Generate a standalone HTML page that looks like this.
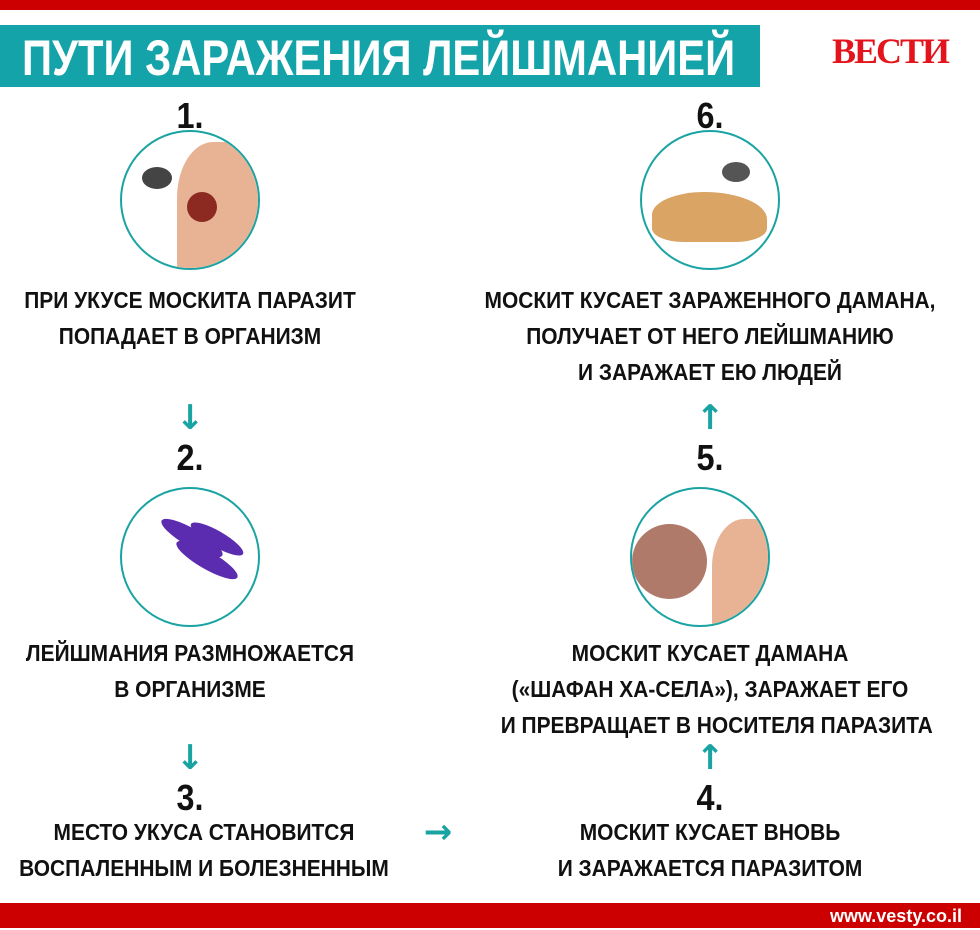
<!DOCTYPE html>
<html><head><meta charset="utf-8"><style>
*{margin:0;padding:0;box-sizing:border-box}
body{width:980px;height:930px;background:#fff;position:relative;overflow:hidden;font-family:"Liberation Sans",sans-serif;font-weight:bold;color:#111}
.a{position:absolute}
.t{position:absolute;text-align:center;font-size:23px;line-height:36px;white-space:nowrap;transform:scaleX(0.91);transform-origin:center top}
.n{position:absolute;font-size:36px;text-align:center;width:80px;transform:scaleX(0.9)}
.c{position:absolute;width:140px;height:140px;border-radius:50%;border:2px solid #1aa3a3;background:#fff;overflow:hidden}
.ar{position:absolute;color:#1aa3a3;font-size:34px;font-weight:bold;font-family:"DejaVu Sans",sans-serif;width:40px;text-align:center}
</style></head><body>
<div class="a" style="left:0;top:0;width:980px;height:10px;background:#cc0000"></div>
<div class="a" style="left:0;top:25px;width:760px;height:62px;background:#14a3a8"></div>
<div class="a" style="left:22px;top:30px;color:#fff;font-size:50px;line-height:56px;white-space:nowrap;transform:scaleX(0.835);transform-origin:left top">ПУТИ ЗАРАЖЕНИЯ ЛЕЙШМАНИЕЙ</div>
<div class="a" style="left:832px;top:30px;color:#e3141b;font-family:'Liberation Serif',serif;font-size:36px;font-weight:bold;letter-spacing:-2px">ВЕСТИ</div>

<div class="n" style="left:150px;top:95px">1.</div>
<div class="n" style="left:670px;top:95px">6.</div>
<div class="c" style="left:120px;top:130px"><div class="a" style="left:55px;top:10px;width:90px;height:140px;background:#e8b394;border-radius:40% 0 0 0"></div><div class="a" style="left:65px;top:60px;width:30px;height:30px;border-radius:50%;background:#8c2a22"></div><div class="a" style="left:20px;top:35px;width:30px;height:22px;border-radius:50%;background:#444"></div></div>
<div class="c" style="left:640px;top:130px"><div class="a" style="left:10px;top:60px;width:115px;height:50px;border-radius:50% 60% 30% 30%;background:#d9a464"></div><div class="a" style="left:80px;top:30px;width:28px;height:20px;border-radius:50%;background:#555"></div></div>
<div class="t" style="left:0;width:380px;top:282px">ПРИ УКУСЕ МОСКИТА ПАРАЗИТ<br>ПОПАДАЕТ В ОРГАНИЗМ</div>
<div class="t" style="left:460px;width:500px;top:282px">МОСКИТ КУСАЕТ ЗАРАЖЕННОГО ДАМАНА,<br>ПОЛУЧАЕТ ОТ НЕГО ЛЕЙШМАНИЮ<br>И ЗАРАЖАЕТ ЕЮ ЛЮДЕЙ</div>

<div class="ar" style="left:170px;top:398px">↓</div>
<div class="ar" style="left:690px;top:398px">↑</div>
<div class="n" style="left:150px;top:437px">2.</div>
<div class="n" style="left:670px;top:437px">5.</div>
<div class="c" style="left:120px;top:487px"><div class="a" style="left:35px;top:40px;width:70px;height:18px;border-radius:50%;background:#5b2bb0;transform:rotate(30deg)"></div><div class="a" style="left:50px;top:62px;width:70px;height:18px;border-radius:50%;background:#5b2bb0;transform:rotate(30deg)"></div><div class="a" style="left:65px;top:42px;width:60px;height:16px;border-radius:50%;background:#5b2bb0;transform:rotate(30deg)"></div></div>
<div class="c" style="left:630px;top:487px"><div class="a" style="left:80px;top:30px;width:80px;height:120px;background:#e8b394;border-radius:40% 0 0 0"></div><div class="a" style="left:0;top:35px;width:75px;height:75px;border-radius:50%;background:#b07a6a"></div></div>
<div class="t" style="left:0;width:380px;top:635px">ЛЕЙШМАНИЯ РАЗМНОЖАЕТСЯ<br>В ОРГАНИЗМЕ</div>
<div class="t" style="left:480px;width:460px;top:635px">МОСКИТ КУСАЕТ ДАМАНА<br>(«ШАФАН ХА-СЕЛА»), ЗАРАЖАЕТ ЕГО<br>И ПРЕВРАЩАЕТ В НОСИТЕЛЯ ПАРАЗИТА</div>

<div class="ar" style="left:170px;top:738px">↓</div>
<div class="ar" style="left:690px;top:738px">↑</div>
<div class="n" style="left:150px;top:777px">3.</div>
<div class="n" style="left:670px;top:777px">4.</div>
<div class="ar" style="left:418px;top:812px">→</div>
<div class="t" style="left:0;width:408px;top:814px">МЕСТО УКУСА СТАНОВИТСЯ<br>ВОСПАЛЕННЫМ И БОЛЕЗНЕННЫМ</div>
<div class="t" style="left:480px;width:460px;top:814px">МОСКИТ КУСАЕТ ВНОВЬ<br>И ЗАРАЖАЕТСЯ ПАРАЗИТОМ</div>

<div class="a" style="left:0;top:903px;width:980px;height:25px;background:#cc0000"></div>
<div class="a" style="right:18px;top:904px;color:#fff;font-size:18px;line-height:24px">www.vesty.co.il</div>
</body></html>
